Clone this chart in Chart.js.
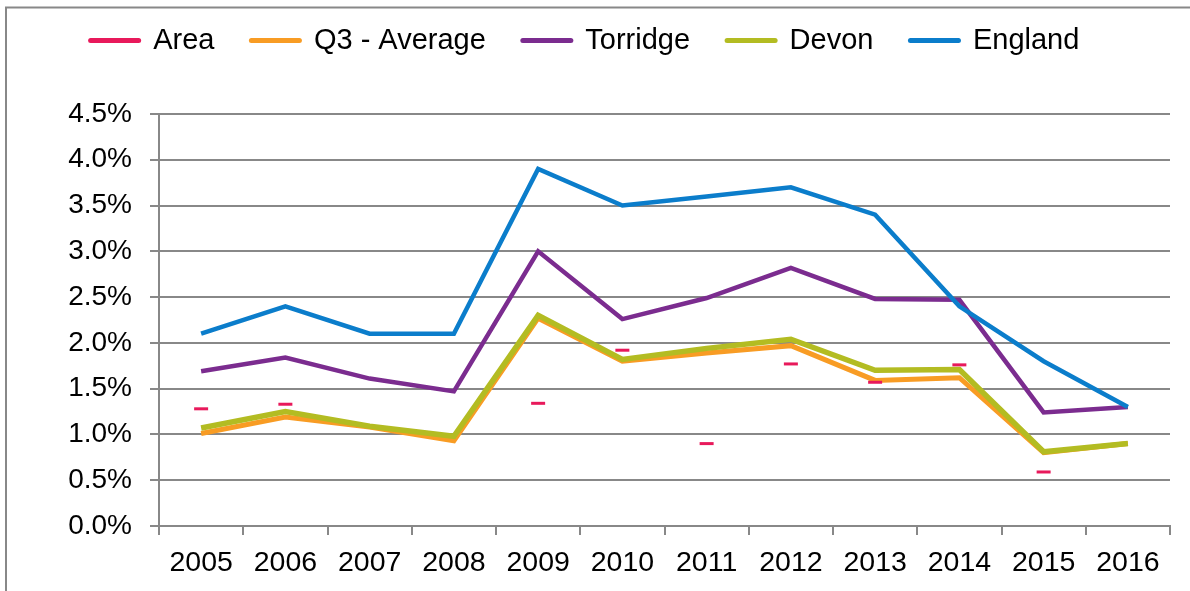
<!DOCTYPE html>
<html>
<head>
<meta charset="utf-8">
<script src="https://cdn.jsdelivr.net/npm/chart.js@4/dist/chart.umd.min.js"></script>
<style>
  html, body { margin: 0; padding: 0; background: #fff; }
  #wrap { width: 1190px; height: 591px; position: relative; }
</style>
</head>
<body>
<div id="wrap"><canvas id="chart"></canvas></div>
<script>
const years = ['2005', '2006', '2007', '2008', '2009', '2010', '2011', '2012', '2013', '2014', '2015', '2016'];
const area = [1.28, 1.33, null, null, 1.34, 1.92, 0.90, 1.77, 1.57, 1.76, 0.59, null];
const q3Average = [1.01, 1.19, 1.08, 0.93, 2.27, 1.80, 1.89, 1.97, 1.59, 1.62, 0.80, 0.90];
const torridge = [1.69, 1.84, 1.61, 1.47, 3.00, 2.26, 2.49, 2.82, 2.48, 2.47, 1.24, 1.30];
const devon = [1.07, 1.25, 1.09, 0.98, 2.30, 1.82, 1.94, 2.04, 1.70, 1.71, 0.81, 0.90];
const england = [2.1, 2.4, 2.1, 2.1, 3.9, 3.5, 3.6, 3.7, 3.4, 2.4, 1.8, 1.3];

const GRID = '#888888';
const FONT = "'Liberation Sans', Arial, sans-serif";

function lineSet(label, data, color, width, order) {
    return {
        label, data, order,
        borderColor: color,
        backgroundColor: color,
        borderWidth: width,
        pointRadius: 0,
        tension: 0,
        fill: false,
    };
}

// outer frame of the chart object
const frame = {
    id: 'frame',
    beforeDraw(chart) {
        const ctx = chart.ctx;
        ctx.save();
        ctx.fillStyle = '#fff';
        ctx.fillRect(0, 0, chart.width, chart.height);
        ctx.strokeStyle = GRID;
        ctx.lineWidth = 2;
        ctx.beginPath();
        ctx.moveTo(6, chart.height);
        ctx.lineTo(6, 7.5);
        ctx.lineTo(chart.width, 7.5);
        ctx.stroke();
        ctx.restore();
    },
};

// keep the legend block a fixed height so the plot starts at the same place
const legendHeight = {
    id: 'legendHeight',
    afterInit(chart) {
        const lg = chart.legend;
        const fit = lg.fit;
        lg.fit = function () {
            fit.call(this);
            this.height = 125;
        };
    },
};

new Chart(document.getElementById('chart'), {
    type: 'line',
    data: {
        labels: years,
        datasets: [
            {
                label: 'Area',
                data: area,
                order: 0,
                showLine: false,
                borderColor: '#E8195B',
                backgroundColor: '#E8195B',
                borderWidth: 3,
                pointStyle: 'line',
                pointRadius: 7,
                pointBorderWidth: 3,
                pointHoverRadius: 7,
            },
            lineSet('Q3 - Average', q3Average, '#F89C24', 5, 4),
            lineSet('Torridge', torridge, '#7B2C8F', 4.5, 2),
            lineSet('Devon', devon, '#B3BC22', 5.5, 3),
            lineSet('England', england, '#0B7DCB', 4.5, 1),
        ],
    },
    options: {
        responsive: true,
        maintainAspectRatio: false,
        animation: false,
        layout: { padding: { top: -11, right: 20, left: 0, bottom: 0 } },
        plugins: {
            legend: {
                position: 'top',
                labels: {
                    color: '#000',
                    font: { family: FONT, size: 29 },
                    usePointStyle: true,
                    pointStyle: 'line',
                    pointStyleWidth: 48,
                    padding: 37,
                    sort: (a, b) => a.datasetIndex - b.datasetIndex,
                    generateLabels(chart) {
                        const items = Chart.defaults.plugins.legend.labels.generateLabels(chart);
                        items.forEach(it => {
                            it.lineWidth = 5;
                            it.lineCap = 'round';
                            it.pointStyle = 'line';
                        });
                        return items;
                    },
                },
            },
            tooltip: { enabled: false },
        },
        scales: {
            x: {
                offset: true,
                grid: {
                    offset: true,
                    drawOnChartArea: false,
                    drawTicks: true,
                    tickLength: 9,
                    color: GRID,
                    lineWidth: 2,
                },
                border: { display: true, color: GRID, width: 2 },
                ticks: {
                    color: '#000',
                    font: { family: FONT, size: 28.5 },
                    padding: 11,
                    maxRotation: 0,
                },
                afterFit(scale) { scale.height = 65; },
            },
            y: {
                min: 0,
                max: 4.5,
                grid: {
                    color: GRID,
                    lineWidth: 2,
                    tickLength: 9,
                },
                border: { display: true, color: GRID, width: 2 },
                ticks: {
                    stepSize: 0.5,
                    color: '#000',
                    font: { family: FONT, size: 28 },
                    padding: 18,
                    callback: v => v.toFixed(1) + '%',
                },
                afterFit(scale) { scale.width = 159; },
            },
        },
    },
    plugins: [frame, legendHeight],
});
</script>
</body>
</html>
